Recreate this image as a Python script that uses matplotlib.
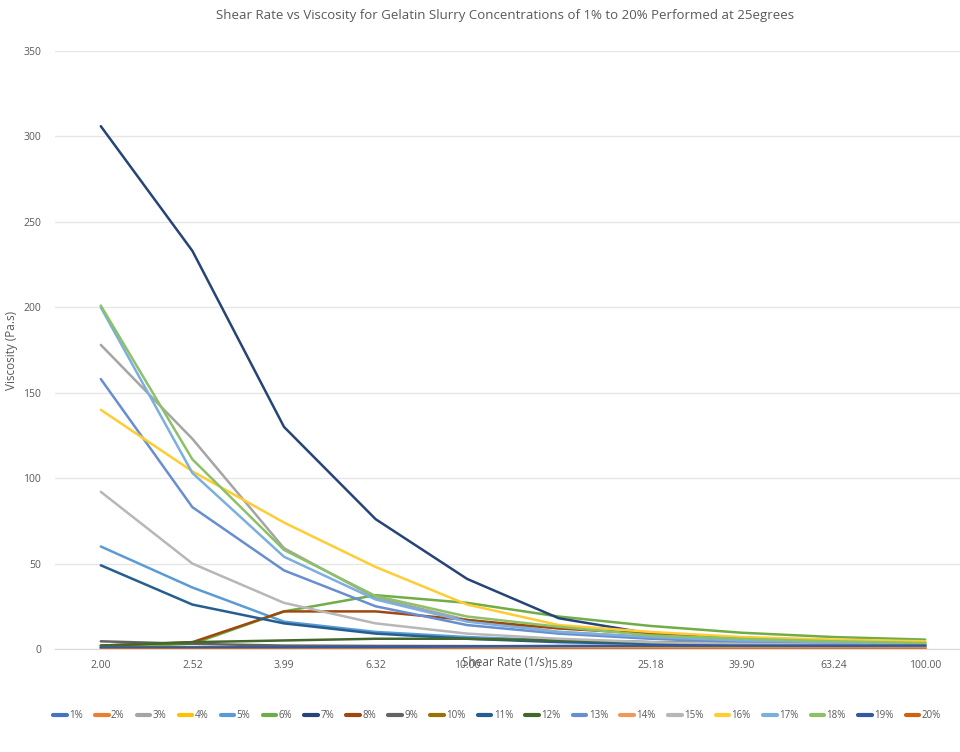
import matplotlib.pyplot as plt
import numpy as np

plt.rcParams['font.family'] = ['Liberation Sans Narrow', 'Open Sans', 'DejaVu Sans']

shear_rate = ["2.00", "2.52", "3.99", "6.32", "10.00", "15.89", "25.18", "39.90", "63.24", "100.00"]

labels = ["1%", "2%", "3%", "4%", "5%", "6%", "7%", "8%", "9%", "10%",
          "11%", "12%", "13%", "14%", "15%", "16%", "17%", "18%", "19%", "20%"]

colors = ["#4472C4", "#ED7D31", "#A5A5A5", "#FFC000", "#5B9BD5", "#70AD47", "#264478", "#9E480E",
          "#636363", "#997300", "#255E91", "#43682B", "#698ED0", "#F1975A", "#B7B7B7", "#FFCD33",
          "#7CAFDD", "#8CC168", "#335AA1", "#D26012"]

# viscosity (Pa.s) per concentration
v_1 = [0.5, 0.5, 0.6, 0.8, 1.0, 1.2, 1.4, 1.5, 1.6, 1.5]
v_2 = [0.3, 0.3, 0.3, 0.3, 0.3, 0.3, 0.3, 0.3, 0.3, 0.3]
v_3 = [178, 123, 59, 30, 17, 10, 7, 5, 4, 3]
v_4 = [0.5, 0.5, 0.5, 0.5, 0.6, 0.6, 0.6, 0.6, 0.6, 0.6]
v_5 = [60, 36, 16, 10, 7, 5, 4, 3, 2.5, 2]
v_6 = [1, 3, 22, 31.5, 27, 19, 13.5, 9.5, 7, 5.5]
v_7 = [306, 233, 130, 76, 41, 18, 9, 5, 3, 2]
v_8 = [2, 4, 22, 22, 17, 12, 9, 6.5, 5, 4]
v_9 = [4.5, 3, 2, 1.8, 1.7, 1.6, 1.5, 1.4, 1.3, 1.2]
v_10 = [1, 1, 1, 1, 1.2, 1.5, 1.5, 1.5, 1.5, 1.5]
v_11 = [49, 26, 15, 9, 6, 4, 3, 2.5, 2, 2]
v_12 = [2, 4, 5, 6, 6, 5, 4, 3.5, 3, 2.5]
v_13 = [158, 83, 46, 25, 14, 9, 6, 4, 3, 2.5]
v_14 = [0.4, 0.4, 0.4, 0.4, 0.4, 0.4, 0.4, 0.4, 0.4, 0.4]
v_15 = [92, 50, 27, 15, 9, 6, 4, 3, 2.5, 2]
v_16 = [140, 104, 74, 48, 26, 14, 10, 7, 5.5, 4.5]
v_17 = [200, 103, 54, 29, 16, 10, 7, 5, 4, 3]
v_18 = [201, 111, 58, 31, 19, 13, 8, 6, 4.5, 3.5]
v_19 = [0.8, 0.8, 1, 1.2, 1.5, 1.8, 2, 2, 2, 2]
v_20 = [0.2, 0.2, 0.2, 0.2, 0.2, 0.2, 0.2, 0.2, 0.2, 0.2]

values = [v_1, v_2, v_3, v_4, v_5, v_6, v_7, v_8, v_9, v_10,
          v_11, v_12, v_13, v_14, v_15, v_16, v_17, v_18, v_19, v_20]

fig = plt.figure(figsize=(9.6, 7.52), dpi=100)
ax = fig.add_axes([55 / 960, 1 - 649 / 752, 916 / 960, 598 / 752])

x = np.arange(len(shear_rate))
for i in range(len(values)):
    ax.plot(x, values[i], color=colors[i], linewidth=1.8, label=labels[i],
            solid_capstyle='round', solid_joinstyle='round')

ax.set_xlim(-0.5, len(shear_rate) - 0.5)
ax.set_ylim(0, 350)
ax.set_yticks(np.arange(0, 351, 50))
ax.set_xticks(x)
ax.set_xticklabels(shear_rate)
ax.grid(axis='y', color='#e6e6e6', linewidth=1)
ax.set_axisbelow(True)
for s in ['top', 'right', 'left']:
    ax.spines[s].set_visible(False)
ax.spines['bottom'].set_color('#d9d9d9')
ax.tick_params(axis='both', length=0, labelsize=7.5, labelcolor='#595959')
ax.tick_params(axis='x', pad=8)
ax.tick_params(axis='y', pad=10)

fig.text(505 / 960, 1 - 663 / 752, "Shear Rate (1/s)",
         ha='center', va='center', fontsize=8.5, color='#595959')
fig.text(12 / 960, 1 - 350 / 752, "Viscosity (Pa.s)", rotation=90, ha='center', va='center',
         fontsize=8.5, color='#595959')
fig.text(505 / 960, 1 - 16 / 752,
         "Shear Rate vs Viscosity for Gelatin Slurry Concentrations of 1% to 20% Performed at 25egrees",
         ha='center', va='center', fontsize=9.5, color='#595959')

leg = fig.legend(loc='center', bbox_to_anchor=(497 / 960, 1 - 716 / 752), ncol=20, frameon=False,
                 fontsize=7, labelcolor='#595959', handlelength=1.4, handletextpad=0.25,
                 columnspacing=1.25)
for h in leg.legend_handles:
    h.set_linewidth(3)

fig.savefig("out.png", dpi=100)
